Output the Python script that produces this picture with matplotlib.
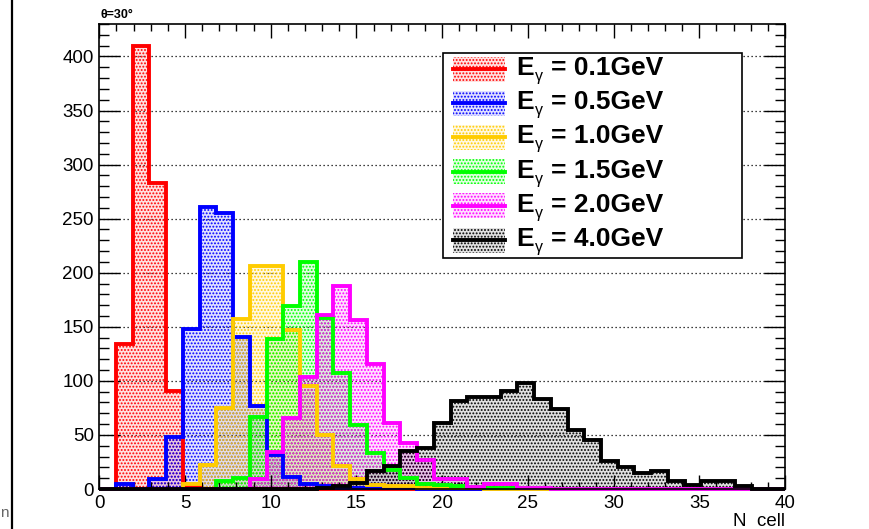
import numpy as np
import matplotlib
matplotlib.use("Agg")
import matplotlib.pyplot as plt
from matplotlib.ticker import MultipleLocator
from matplotlib.patches import Rectangle
from matplotlib.lines import Line2D

plt.rcParams['font.family'] = ['Liberation Sans', 'DejaVu Sans']
plt.rcParams['hatch.linewidth'] = 0.9

# ---------------- data (counts per N cell bin, 41 bins over 0..40) ----------------
energy_labels = ["0.1GeV", "0.5GeV", "1.0GeV", "1.5GeV", "2.0GeV", "4.0GeV"]
colors = ["#ff0000", "#0000ff", "#ffcc00", "#00ff00", "#ff00ff", "#000000"]

h_e01 = [0, 134, 410, 283, 91, 2]
h_e05 = [0, 5, 0, 9, 48, 148, 261, 255, 141, 77, 31, 11, 5, 3, 1, 1, 1, 1, 1]
h_e10 = [0, 0, 0, 0, 0, 5, 22, 75, 157, 206, 206, 147, 95, 50, 21, 9, 4, 3, 3, 1, 1, 1, 1]
h_e15 = [0, 0, 0, 0, 0, 0, 0, 7, 10, 67, 139, 169, 210, 158, 107, 59, 33, 18, 10,
         5, 4, 3, 2, 1, 1, 1, 1]
h_e20 = [0, 0, 0, 0, 0, 0, 0, 0, 0, 9, 34, 66, 104, 161, 188, 156, 116, 61, 43,
         27, 9, 9, 2, 5, 5, 1, 1]
h_e40 = [0, 0, 0, 0, 0, 0, 0, 0, 0, 0, 0, 0, 0, 1, 3, 6, 17, 21, 35, 38, 61, 81, 85,
         85, 91, 98, 83, 74, 55, 45, 26, 20, 15, 17, 7, 4, 7, 7, 3, 0, 0]

n_bins = 41
x_min, x_max = 0, 40
hists = [h_e01, h_e05, h_e10, h_e15, h_e20, h_e40]

W, H = 870, 529
fig = plt.figure(figsize=(W / 100, H / 100), dpi=100)

def fx(px):
    return px / W

def fy(py):
    return 1 - py / H

ax_l, ax_r, ax_t, ax_b = 99.3, 785, 24, 489
ax = fig.add_axes([fx(ax_l), fy(ax_b), fx(ax_r) - fx(ax_l), fy(ax_t) - fy(ax_b)])

edges = np.linspace(x_min, x_max, n_bins + 1)
FILL_ALPHA = 0.12

for vals, col in zip(hists, colors):
    v = np.zeros(n_bins)
    v[:len(vals)] = vals
    ax.stairs(v, edges, fill=True, facecolor=matplotlib.colors.to_rgba(col, FILL_ALPHA),
              edgecolor=col, hatch='.....', linewidth=0, zorder=1)
    ax.stairs(v, edges, fill=False, color=col, linewidth=2.8, baseline=0,
              zorder=2, clip_on=False)

ax.set_xlim(x_min, x_max)
ax.set_ylim(0, 430)

ax.xaxis.set_major_locator(MultipleLocator(5))
ax.xaxis.set_minor_locator(MultipleLocator(1))
ax.yaxis.set_major_locator(MultipleLocator(50))
ax.yaxis.set_minor_locator(MultipleLocator(10))

# horizontal dotted grid at major y ticks
for yv in np.arange(50, 430, 50):
    ax.axhline(yv, color='black', lw=0.9, ls=(0, (1, 2.2)), zorder=0.5)

ax.tick_params(axis='both', which='both', direction='in', top=True, right=True,
               width=1.0, colors='black', labelsize=13.5)
ax.tick_params(axis='y', which='major', length=15, pad=4)
ax.tick_params(axis='y', which='minor', length=7.5)
ax.tick_params(axis='x', which='major', length=10, pad=4)
ax.tick_params(axis='x', which='minor', length=5)
for s in ax.spines.values():
    s.set_linewidth(1.2)
    s.set_zorder(3)

fig.text(fx(785), fy(521), "N  cell", ha='right', va='center', fontsize=13.5)

# title
fig.text(fx(101), fy(18.5), "θ=30°", ha='left', va='baseline', fontsize=9,
         fontweight='bold')

# left border line of canvas and stray text at its edge
fig.add_artist(Line2D([fx(12.5), fx(12.5)], [0, 1], color='black', lw=1.6))
fig.text(fx(0.5), fy(513), "n", ha='left', va='center', fontsize=11, color='#666666')

# ---------------- legend ----------------
lg_l, lg_r, lg_t, lg_b = 442.7, 742.3, 52.7, 258.3
fig.add_artist(Rectangle((fx(lg_l), fy(lg_b)), fx(lg_r) - fx(lg_l), fy(lg_t) - fy(lg_b),
                         transform=fig.transFigure, facecolor='white',
                         edgecolor='black', lw=1.2, zorder=5))
row0 = 75.0
dy = 34.2
for i, (lab, col) in enumerate(zip(energy_labels, colors)):
    base = row0 + i * dy
    cy = base - 6
    fig.add_artist(Rectangle((fx(453), fy(cy + 12.5)), fx(505) - fx(453), 25 / H,
                             transform=fig.transFigure,
                             facecolor=matplotlib.colors.to_rgba(col, FILL_ALPHA),
                             edgecolor=col, hatch='.....', lw=0, zorder=6))
    fig.add_artist(Line2D([fx(453), fx(505)], [fy(cy), fy(cy)], color=col, lw=2.8,
                          zorder=7))
    fig.text(fx(516.5), fy(base), "E", ha='left', va='baseline', fontsize=19,
             fontweight='bold', zorder=8)
    fig.text(fx(535), fy(base + 6), "γ", ha='left', va='baseline', fontsize=11.5,
             zorder=8)
    fig.text(fx(551), fy(base), "= " + lab, ha='left', va='baseline', fontsize=19,
             fontweight='bold', zorder=8)

fig.savefig("out.png", dpi=100)
